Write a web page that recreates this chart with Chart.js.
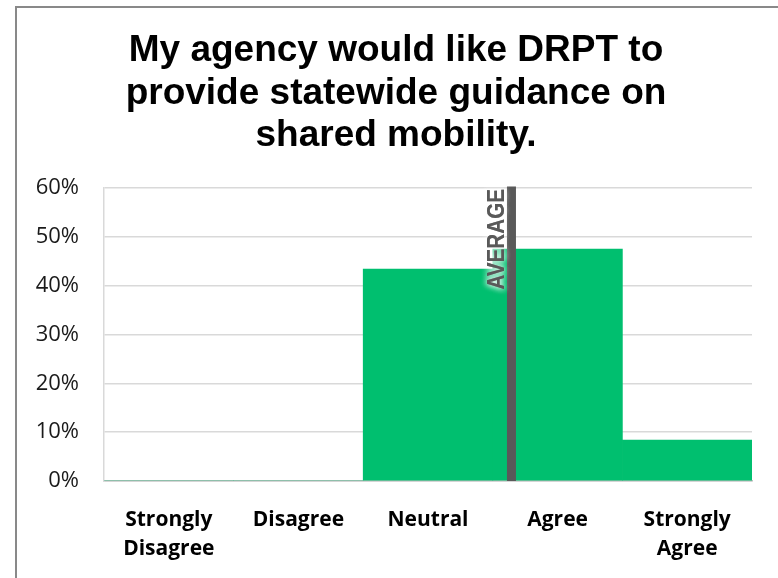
<!DOCTYPE html>
<html><head><meta charset="utf-8">
<script src="https://cdn.jsdelivr.net/npm/chart.js@4"></script>
<style>
html,body{margin:0;padding:0;background:#fff;width:778px;height:578px;overflow:hidden}
#frame{position:absolute;left:15px;top:6px;width:800px;height:600px;border:2px solid #898989;}
#c{position:absolute;left:0;top:0}
</style></head><body>
<div id="frame"></div>
<canvas id="c" width="778" height="578"></canvas>
<script>
const titleLines = ["My agency would like DRPT to", "provide statewide guidance on", "shared mobility."];
const categories = [["Strongly", "Disagree"], "Disagree", "Neutral", "Agree", ["Strongly", "Agree"]];
const shares = [0, 0, 43.4, 47.5, 8.4];
const averageScore = 3.644; // on the 1..5 answer scale
const averageLabel = "AVERAGE";
const yTicks = [0, 10, 20, 30, 40, 50, 60];

const averagePlugin = {
  id: 'averageLine',
  afterDatasetsDraw(chart) {
    const {ctx, chartArea, scales: {x}} = chart;
    const px = x.getPixelForValue(averageScore - 1);
    ctx.save();
    ctx.strokeStyle = '#595959';
    ctx.lineWidth = 9;
    ctx.beginPath();
    ctx.moveTo(px, chartArea.top - 1.5);
    ctx.lineTo(px, chartArea.bottom);
    ctx.stroke();
    ctx.translate(px - 7, chartArea.top + 1);
    ctx.rotate(-Math.PI / 2);
    ctx.scale(0.86, 1);
    ctx.font = 'bold 24px "Liberation Sans", Arial, sans-serif';
    ctx.textAlign = 'right';
    ctx.textBaseline = 'alphabetic';
    ctx.shadowColor = 'rgba(255,255,255,0.95)';
    ctx.shadowBlur = 6;
    ctx.fillStyle = '#595959';
    ctx.fillText(averageLabel, 0, 0);
    ctx.fillText(averageLabel, 0, 0);
    ctx.restore();
  }
};

new Chart(document.getElementById('c'), {
  type: 'bar',
  data: {
    labels: categories,
    datasets: [{
      data: shares,
      backgroundColor: '#00BF6F',
      borderWidth: 0,
      barPercentage: 1,
      categoryPercentage: 1
    }]
  },
  options: {
    responsive: false,
    devicePixelRatio: 1,
    animation: false,
    layout: {padding: {left: 14, right: 0, top: 0, bottom: 0}},
    plugins: {
      legend: {display: false},
      tooltip: {enabled: false},
      title: {
        display: true,
        text: titleLines,
        color: '#000',
        font: {family: '"Liberation Sans", Arial, sans-serif', size: 37, weight: 'bold', lineHeight: 1.15},
        padding: {top: 29.75, bottom: 30.6}
      }
    },
    scales: {
      x: {
        grid: {display: false, drawTicks: false},
        border: {display: true, color: '#bfbfbf', width: 1.5},
        ticks: {
          color: '#000',
          font: {family: '"Open Sans", sans-serif', size: 21, weight: 'bold', lineHeight: 1.4},
          padding: 24,
          maxRotation: 0,
          autoSkip: false
        },
        afterFit(s) { s.height = 97; }
      },
      y: {
        min: 0,
        max: 60,
        grid: {color: '#d9d9d9', lineWidth: 1.5, drawTicks: false},
        border: {display: true, color: '#d9d9d9', width: 1.5},
        ticks: {
          color: '#1a1a1a',
          font: {family: '"Open Sans", sans-serif', size: 22},
          padding: 25,
          callback: v => v + '%'
        },
        afterBuildTicks(s) { s.ticks = yTicks.map(v => ({value: v})); },
        afterFit(s) { s.width = 90; }
      },
      spacer: {
        type: 'linear',
        position: 'right',
        display: true,
        grid: {display: false, drawTicks: false},
        border: {display: false},
        ticks: {display: false},
        afterFit(s) { s.width = 26; }
      }
    }
  },
  plugins: [averagePlugin]
});
</script>
</body></html>
